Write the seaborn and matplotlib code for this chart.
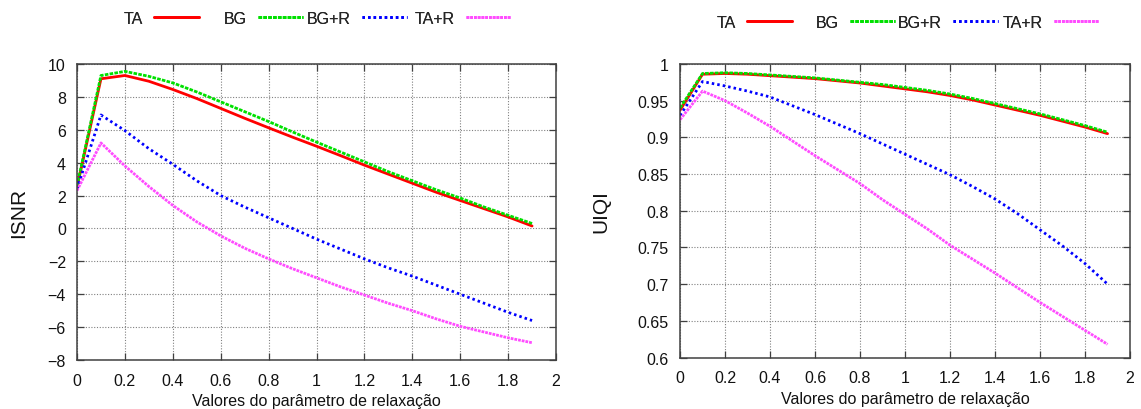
import numpy as np
import pandas as pd
import matplotlib
matplotlib.use("Agg")
import matplotlib.pyplot as plt
from matplotlib.ticker import FuncFormatter
import seaborn as sns

# Relaxation parameter values
relax = [0.0, 0.1, 0.2, 0.3, 0.4, 0.5, 0.6, 0.7, 0.8, 0.9,
         1.0, 1.1, 1.2, 1.3, 1.4, 1.5, 1.6, 1.7, 1.8, 1.9]

methods = ["TA", "BG", "BG+R", "TA+R"]

# ISNR (dB) per method
isnr_ta = [2.5, 9.1, 9.3, 8.95, 8.45, 7.9, 7.3, 6.7, 6.12, 5.55,
           5.0, 4.43, 3.85, 3.3, 2.75, 2.2, 1.7, 1.2, 0.7, 0.15]
isnr_bg = [2.6, 9.3, 9.55, 9.25, 8.85, 8.3, 7.7, 7.1, 6.5, 5.87,
           5.25, 4.65, 4.05, 3.45, 2.9, 2.35, 1.85, 1.3, 0.8, 0.3]
isnr_bgr = [2.4, 6.9, 5.95, 4.85, 3.9, 2.9, 2.0, 1.3, 0.65, 0.0,
            -0.65, -1.25, -1.85, -2.4, -2.9, -3.45, -4.0, -4.55, -5.1, -5.6]
isnr_tar = [2.3, 5.2, 3.8, 2.55, 1.4, 0.4, -0.45, -1.2, -1.85, -2.45,
            -3.0, -3.55, -4.05, -4.55, -5.0, -5.5, -5.95, -6.3, -6.65, -6.95]

# UIQI per method
uiqi_ta = [0.937, 0.986, 0.987, 0.986, 0.984, 0.982, 0.980, 0.977, 0.974, 0.970,
           0.966, 0.962, 0.957, 0.951, 0.944, 0.937, 0.930, 0.922, 0.914, 0.905]
uiqi_bg = [0.940, 0.987, 0.988, 0.987, 0.985, 0.983, 0.981, 0.978, 0.975, 0.972,
           0.968, 0.964, 0.959, 0.953, 0.946, 0.939, 0.932, 0.924, 0.916, 0.907]
uiqi_bgr = [0.930, 0.976, 0.970, 0.963, 0.955, 0.943, 0.931, 0.918, 0.905, 0.891,
            0.877, 0.863, 0.849, 0.833, 0.816, 0.796, 0.774, 0.752, 0.728, 0.700]
uiqi_tar = [0.924, 0.963, 0.950, 0.933, 0.915, 0.895, 0.875, 0.856, 0.837, 0.815,
            0.795, 0.775, 0.753, 0.734, 0.715, 0.695, 0.675, 0.656, 0.637, 0.618]

xticks = [0, 0.2, 0.4, 0.6, 0.8, 1.0, 1.2, 1.4, 1.6, 1.8, 2.0]
isnr_ticks = [-8, -6, -4, -2, 0, 2, 4, 6, 8, 10]
uiqi_ticks = [0.6, 0.65, 0.7, 0.75, 0.8, 0.85, 0.9, 0.95, 1.0]

xlabel = "Valores do parâmetro de relaxação"

palette = {"TA": "#ff0000", "BG": "#00e000", "BG+R": "#0000ff", "TA+R": "#ff4cff"}
dashes = {"TA": "", "BG": (1.3, 0.45), "BG+R": (0.9, 1.1), "TA+R": (1.0, 0.35)}

FS = 11.5

sns.set_theme(style="white")
plt.rcParams["font.family"] = ["Liberation Sans", "DejaVu Sans"]
plt.rcParams["font.size"] = FS


def long_form(series):
    frames = []
    for name, vals in zip(methods, series):
        frames.append(pd.DataFrame({"x": relax, "y": vals, "method": name}))
    return pd.concat(frames, ignore_index=True)


fig = plt.figure(figsize=(11.41, 4.10), dpi=100)
ax1 = fig.add_axes([0.0675, 0.1195, 0.4198, 0.722])
ax2 = fig.add_axes([0.596, 0.1256, 0.3944, 0.716])

panels = [
    (ax1, [isnr_ta, isnr_bg, isnr_bgr, isnr_tar], "ISNR", (-8, 10), isnr_ticks,
     [199, 303, 407, 511], 19, -0.103),
    (ax2, [uiqi_ta, uiqi_bg, uiqi_bgr, uiqi_tar], "UIQI", (0.6, 1.0), uiqi_ticks,
     [792, 895, 998, 1099], 23, -0.155),
]

fmt = FuncFormatter(lambda v, p: ("%g" % round(v, 4)).replace("-", "\u2212"))

for ax, series, ylab, ylim, yt, leg_x, leg_y, ylab_x in panels:
    df = long_form(series)
    sns.lineplot(data=df, x="x", y="y", hue="method", style="method",
                 hue_order=methods, style_order=methods, palette=palette,
                 dashes=dashes, linewidth=2.0, legend=False, ax=ax)
    ax.set_xlim(0, 2)
    ax.set_ylim(*ylim)
    ax.set_xticks(xticks)
    ax.set_yticks(yt)
    ax.xaxis.set_major_formatter(fmt)
    ax.yaxis.set_major_formatter(fmt)
    ax.grid(True, linestyle=(0, (1, 1.5)), color="#808080", linewidth=0.8)
    ax.tick_params(direction="in", length=5, width=0.9, color="#404040",
                   top=True, right=True, bottom=True, left=True,
                   labelsize=FS, labelcolor="#111111")
    ax.tick_params(axis="x", pad=9)
    ax.tick_params(axis="y", pad=8)
    for s in ax.spines.values():
        s.set_color("#404040")
        s.set_linewidth(1.1)
    ax.set_xlabel(xlabel, fontsize=FS, labelpad=4, color="#111111")
    ax.set_ylabel(ylab, fontsize=15, color="#111111")
    ax.yaxis.set_label_coords(ylab_x, 0.5)

    # One key entry per slot: label first, sample after, right-aligned
    lines = ax.get_lines()[:len(methods)]
    for line, name, xr in zip(lines, methods, leg_x):
        leg = fig.legend([line], [name], loc="center right",
                         bbox_to_anchor=(xr / 1141, 1 - leg_y / 410),
                         bbox_transform=fig.transFigure, markerfirst=False,
                         frameon=False, borderpad=0, borderaxespad=0,
                         handlelength=2.8, handletextpad=0.7,
                         fontsize=FS)
        fig.add_artist(leg)

fig.savefig("out.png", dpi=100)
